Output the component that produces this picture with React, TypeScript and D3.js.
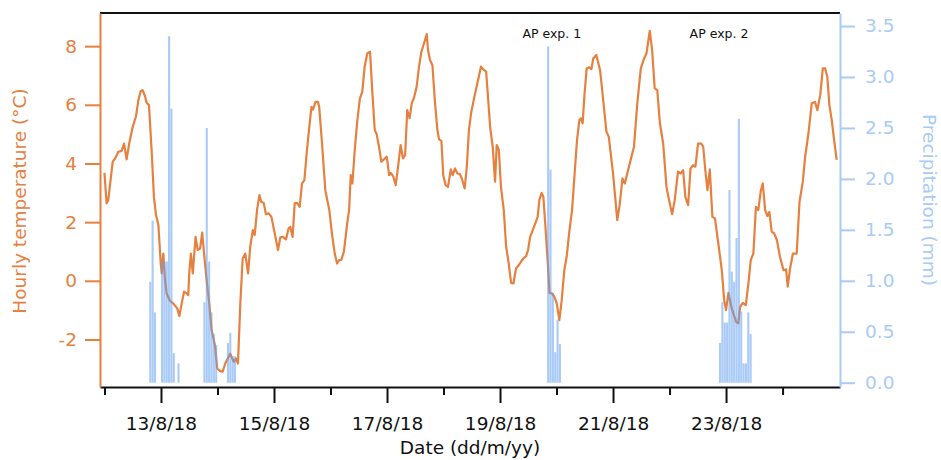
import { useEffect, useRef } from 'react';
import * as d3 from 'd3';

// hourly temperature, [hours since 12/8/18 00:00, °C]
const temperature: [number, number][] = [
  [0, 3.68], [0.9, 2.64], [1.6, 2.75], [3.5, 4.06], [4.5, 4.17], [5.9, 4.4], [7.3, 4.43], [8.3, 4.68],
  [9.4, 4.14], [10.5, 4.68], [12, 5.25], [13.4, 5.61], [14.4, 6.16], [15.4, 6.47], [16.2, 6.5], [17.2, 6.3],
  [17.9, 6.07], [18.9, 5.99], [20.1, 4.34], [21, 2.86], [21.9, 2.24], [22.9, 1.9], [23.9, 0.59], [24.3, 0.25],
  [25, 0.93], [25.7, 0.02], [26.4, -0.43], [27.8, -0.68], [29.2, -0.77], [30.9, -0.94], [31.8, -1.2], [32.8, -0.77],
  [33.8, -0.37], [34.6, -0.41], [35.6, -0.49], [36, 0.25], [36.7, 0.93], [37.5, 0.25], [38.7, 1.5], [39.6, 1.05],
  [40.6, 1.1], [41.5, 1.64], [42.3, 0.93], [43.4, 0.02], [44.5, -0.77], [45.5, -1.68], [46.9, -2.19], [47.9, -2.99],
  [49.1, -3.07], [50.2, -3.1], [51.3, -2.82], [53.4, -2.48], [54.9, -2.76], [55.9, -2.65], [56.7, -2.82], [57.7, -0.77],
  [58.7, 0.76], [59.8, 0.93], [61, 0.25], [61.9, 1.16], [63, 1.73], [63.8, 1.56], [64.8, 2.41], [65.8, 2.92],
  [66.6, 2.69], [67.6, 2.66], [68.6, 2.27], [69.8, 2.3], [70.9, 2.18], [72.6, 1.5], [73.7, 1.05], [74.7, 1.48],
  [75.8, 1.5], [77.1, 1.41], [78.2, 1.79], [78.9, 1.84], [79.9, 1.5], [80.8, 2.64], [81.8, 2.66], [82.9, 2.52],
  [83.9, 3.32], [84.9, 3.43], [86, 4.46], [87, 5.25], [87.9, 5.93], [88.6, 5.84], [89.6, 6.1], [90.7, 6.1],
  [91.2, 5.93], [92.4, 4.68], [93.8, 3.09], [95.5, 2.41], [96.6, 1.62], [97.8, 0.93], [98.8, 0.59], [99.7, 0.71],
  [100.6, 0.71], [101.7, 1.0], [103.1, 1.96], [103.9, 2.41], [104.6, 3.6], [105.3, 3.32], [106.3, 4.46], [107.4, 5.48],
  [108.5, 6.22], [109.5, 6.44], [110.5, 7.3], [111.6, 7.75], [112.8, 7.81], [113.8, 6.39], [114.8, 5.14], [115.6, 5.0],
  [116.6, 4.57], [117.6, 4.06], [118.7, 4.14], [119.9, 4.23], [120.9, 3.6], [121.6, 3.68], [122.7, 3.55], [123.7, 3.26],
  [124.7, 3.89], [125.8, 4.63], [126.8, 4.17], [127.7, 4.29], [128.6, 5.82], [129.6, 5.54], [130.5, 6.05], [131.5, 6.25],
  [132.6, 6.62], [133.6, 7.3], [134.6, 7.81], [135.7, 8.09], [136.9, 8.41], [137.4, 7.87], [138.3, 7.52], [139.3, 7.35],
  [140.3, 6.16], [141.4, 5.14], [142.1, 4.82], [143.1, 4.77], [143.9, 3.6], [144.9, 3.26], [145.9, 3.2], [147.1, 3.8],
  [147.9, 3.6], [148.9, 3.83], [149.9, 3.66], [151, 3.64], [152, 3.43], [153, 3.15], [153.9, 3.89], [154.8, 5.14],
  [155.7, 5.71], [157.1, 6.27], [158.5, 6.78], [159.9, 7.3], [161.3, 7.18], [162.1, 7.13], [163, 6.16], [163.8, 5.25],
  [164.9, 4.57], [165.9, 3.38], [166.6, 4.63], [167.5, 4.46], [168.4, 3.2], [169.6, 2.41], [170.6, 1.16], [171.7, 0.59],
  [172.7, -0.07], [173.7, -0.09], [174.8, 0.42], [176, 0.54], [176.9, 0.65], [177.9, 0.76], [179.1, 0.84], [179.9, 1.05],
  [180.8, 1.5], [181.9, 1.73], [183, 1.96], [184, 2.18], [184.7, 2.75], [185.7, 3.0], [186.4, 2.86], [187.3, 1.84],
  [188.3, 0.59], [189, -0.41], [190.1, -0.43], [191.1, -0.55], [192.1, -0.77], [193.2, -1.34], [194.2, -0.66], [195.3, 0.36],
  [196.3, 0.82], [197.5, 1.73], [198.6, 2.41], [199.6, 3.55], [200.7, 4.8], [201.7, 5.48], [202.4, 5.54], [203.1, 5.37],
  [203.8, 6.27], [204.8, 7.24], [205.9, 7.28], [206.8, 7.21], [207.6, 7.58], [208.9, 7.7], [210.5, 7.18], [211.1, 6.73],
  [213.2, 5.08], [214.2, 4.91], [216, 3.66], [217.8, 2.07], [218.9, 2.64], [220, 3.49], [221, 3.32], [223.1, 4.0],
  [224.9, 4.57], [226.3, 6.05], [227.8, 7.24], [229.2, 7.58], [230.2, 7.75], [231.6, 8.52], [232.6, 7.87], [233.7, 6.56],
  [234.8, 6.5], [235.9, 5.37], [237.3, 4.68], [238.7, 3.2], [239.8, 2.75], [241.1, 2.27], [242.2, 2.75], [243.6, 3.72],
  [244.8, 3.66], [245.8, 3.77], [246.7, 2.86], [247.9, 2.58], [248.9, 3.83], [250, 3.94], [251, 3.89], [252.1, 4.68],
  [253.5, 4.68], [254.3, 4.57], [255.2, 3.77], [256.1, 3.09], [257.1, 3.8], [258.2, 2.18], [259.3, 2.13], [260.7, 1.28],
  [262.2, 0.36], [263.2, -0.66], [264, -1.0], [265, -0.41], [266.4, -0.94], [268.3, -1.4], [269.2, -1.45], [270, -0.89],
  [271.1, -0.75], [272.4, -0.83], [273.5, -0.09], [274.5, 0.71], [275.6, 0.93], [276.7, 2.52], [277.7, 2.41], [278.8, 3.09],
  [279.6, 3.32], [280.6, 2.41], [281.6, 2.21], [282.4, 2.35], [283.4, 1.67], [284.4, 1.62], [285.6, 1.39], [286.9, 0.82],
  [288.4, 0.36], [289.5, 0.39], [290.2, -0.2], [291.2, 0.42], [292.4, 0.93], [294, 0.93], [295.2, 2.69], [296.6, 3.38],
  [297.6, 4.23], [299, 5.03], [300.4, 6.05], [301.8, 6.1], [302.8, 5.82], [304, 6.33], [305.1, 7.24], [306.1, 7.24],
  [307, 6.96], [307.9, 5.99], [308.9, 5.48], [309.9, 4.8], [311, 4.12],
];

// hourly precipitation, [hour, mm]
const precipitation: [number, number][] = [
  [19, 0.99], [20, 1.59], [21, 0.69], [24, 1.19], [25, 1.19], [26, 1.19], [27, 3.4], [28, 2.69], [29, 0.29], [31, 0.19],
  [42, 0.79], [43, 2.5], [44, 1.19], [45, 0.69], [46, 0.48], [47, 0.37],
  [52, 0.39], [53, 0.49], [54, 0.26], [55, 0.26],
  [188, 3.3], [189, 2.09], [190, 0.88], [191, 0.3], [192, 0.62], [193, 0.38],
  [261, 0.39], [262, 0.79], [263, 0.59], [264, 0.59], [265, 1.89], [266, 1.09], [267, 0.99], [268, 1.42],
  [269, 2.59], [270, 0.7], [271, 0.19], [272, 0.19], [273, 0.69], [274, 0.48],
];

const tempTicks = [-2, 0, 2, 4, 6, 8];
const rainTicks = [0, 0.5, 1, 1.5, 2, 2.5, 3, 3.5];
const tickDays = d3.range(12, 25);
const expLabels = ['AP exp. 1', 'AP exp. 2'];
const expHours = [190, 261];

const ORANGE = '#e5803f';
const BLUE = '#a9cbf5';
const FONT = '"DejaVu Sans", sans-serif';

const start = new Date(2018, 7, 12);
const at = (h: number) => new Date(start.getTime() + h * 3600e3);

export default function App() {
  const svgRef = useRef<SVGSVGElement>(null);

  useEffect(() => {
    const svg = d3.select(svgRef.current).html('');

    const x = d3.scaleTime().domain([at(-1.9), at(312.4)]).range([100, 840]);
    const yT = d3.scaleLinear().domain([-3.62, 9.13]).range([387, 13]);
    const yP = d3.scaleLinear().domain([-0.042, 3.628]).range([387, 13]);

    // temperature line
    svg.append('path')
      .datum(temperature)
      .attr('fill', 'none')
      .attr('stroke', ORANGE)
      .attr('stroke-width', 2.2)
      .attr('stroke-linejoin', 'round')
      .attr('d', d3.line<[number, number]>().x(d => x(at(d[0]))).y(d => yT(d[1])));

    // precipitation bars, on top and translucent
    svg.append('g')
      .selectAll('rect')
      .data(precipitation)
      .join('rect')
      .attr('x', d => x(at(d[0])))
      .attr('width', d => x(at(d[0] + 1)) - x(at(d[0])) - 0.25)
      .attr('y', d => yP(d[1]))
      .attr('height', d => yP(0) - yP(d[1]))
      .attr('fill', '#64a0f0')
      .attr('fill-opacity', 0.55);

    // top frame
    svg.append('line')
      .attr('x1', 100).attr('x2', 840).attr('y1', 13).attr('y2', 13)
      .attr('stroke', '#111').attr('stroke-width', 2);

    // bottom axis
    const fmt = d3.timeFormat('%-d/%-m/%y');
    const gb = svg.append('g')
      .attr('transform', 'translate(0,387)')
      .call(d3.axisBottom(x)
        .tickValues(tickDays.map(d => new Date(2018, 7, d)))
        .tickSize(16).tickSizeOuter(0).tickPadding(14)
        .tickFormat((d: any) => (d.getDate() % 2 ? fmt(d) : '')));
    gb.attr('font-size', 18.5).attr('font-family', FONT);
    gb.select('.domain').attr('stroke', '#111').attr('stroke-width', 2);
    gb.selectAll('.tick line')
      .attr('stroke', '#111').attr('stroke-width', 2)
      .attr('y2', (d: any) => (d.getDate() % 2 ? 16 : 8));
    gb.selectAll('.tick text').attr('fill', '#111');

    // left axis
    const gl = svg.append('g')
      .attr('transform', 'translate(100,0)')
      .call(d3.axisLeft(yT).tickValues(tempTicks).tickSize(15).tickSizeOuter(0).tickPadding(8)
        .tickFormat((d: any) => String(d)));
    gl.attr('font-size', 18.5).attr('font-family', FONT);
    gl.select('.domain').attr('stroke', ORANGE).attr('stroke-width', 2);
    gl.selectAll('.tick line').attr('stroke', ORANGE).attr('stroke-width', 2);
    gl.selectAll('.tick text').attr('fill', ORANGE);

    // right axis
    const gr = svg.append('g')
      .attr('transform', 'translate(840,0)')
      .call(d3.axisRight(yP).tickValues(rainTicks).tickSize(15).tickSizeOuter(0).tickPadding(10)
        .tickFormat(d3.format('.1f')));
    gr.attr('font-size', 18.5).attr('font-family', FONT);
    gr.select('.domain').attr('stroke', BLUE).attr('stroke-width', 2);
    gr.selectAll('.tick line').attr('stroke', BLUE).attr('stroke-width', 2);
    gr.selectAll('.tick text').attr('fill', BLUE);

    // axis titles
    svg.append('text')
      .attr('x', 470).attr('y', 454)
      .attr('text-anchor', 'middle')
      .attr('font-family', FONT).attr('font-size', 18.5)
      .attr('fill', '#111')
      .text('Date (dd/m/yy)');

    svg.append('text')
      .attr('transform', 'translate(25.5,201) rotate(-90)')
      .attr('text-anchor', 'middle')
      .attr('font-family', FONT).attr('font-size', 18.5)
      .attr('fill', ORANGE)
      .text('Hourly temperature (°C)');

    svg.append('text')
      .attr('transform', 'translate(923,200) rotate(90)')
      .attr('text-anchor', 'middle')
      .attr('font-family', FONT).attr('font-size', 18.5)
      .attr('fill', BLUE)
      .text('Precipitation (mm)');

    // experiment labels
    svg.append('g')
      .selectAll('text')
      .data(expHours)
      .join('text')
      .attr('x', d => x(at(d)))
      .attr('y', 38)
      .attr('text-anchor', 'middle')
      .attr('font-family', FONT).attr('font-size', 12.5)
      .attr('fill', '#111')
      .text((d, i) => expLabels[i]);
  }, []);

  return (
    <svg
      ref={svgRef}
      width={941}
      height={460}
      style={{ position: 'absolute', left: 0, top: 0, background: '#fff' }}
    />
  );
}
